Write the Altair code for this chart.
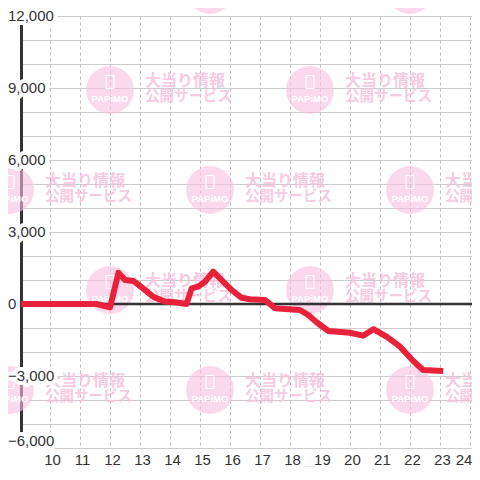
import altair as alt
import pandas as pd

# ---- chart values ----
hours = [9.03, 11.55, 12.0, 12.28, 12.5, 12.78, 13.17, 13.44, 13.83, 14.17,
         14.55, 14.72, 14.93, 15.17, 15.44, 15.72, 16.06, 16.39, 16.67, 17.17,
         17.5, 18.33, 18.61, 18.89, 19.28, 20.0, 20.44, 20.78, 21.22, 21.67,
         22.11, 22.44, 23.11]
values = [0, 0, -140, 1300, 1000, 960, 580, 300, 100, 70,
          0, 650, 720, 930, 1350, 1000, 580, 260, 200, 170,
          -180, -250, -460, -760, -1125, -1200, -1320, -1050, -1360, -1780,
          -2375, -2750, -2790]
y_ticks = [12000, 9000, 6000, 3000, 0, -3000, -6000]
y_grid = list(range(-6000, 12001, 1000))
x_ticks = list(range(10, 25))

X_DOMAIN = [9.03, 24.07]
Y_DOMAIN = [-6000, 12000]
W, H = 451, 432

line_df = pd.DataFrame({"h": hours, "v": values})
ylab_df = pd.DataFrame({"v": y_ticks})

# ---- decorative watermark tiles (repeating page pattern, mapped into data space) ----
px_per_h = W / (X_DOMAIN[1] - X_DOMAIN[0])
units_per_px = (Y_DOMAIN[1] - Y_DOMAIN[0]) / H


def to_h(px):
    return X_DOMAIN[0] + (px - 21) / px_per_h


def to_v(py):
    return Y_DOMAIN[1] - (py - 16) * units_per_px


wm = []
for k in range(-1, 5):
    cy = 90 + 100 * k
    for i in range(-1, 3):
        cx = 110 + 100 * (k % 2) + 200 * i
        if -60 <= cx <= 520:
            wm.append({"cx": to_h(cx), "cy": to_v(cy), "tx": to_h(cx + 35),
                       "t1y": to_v(cy - 9), "t2y": to_v(cy + 7),
                       "py": to_v(cy + 9), "iy": to_v(cy - 8)})
wm_df = pd.DataFrame(wm)

FONT = "Liberation Sans"
JP = "Noto Sans CJK JP"
WM_TEXT = "#f6c2dd"

xs = alt.Scale(domain=X_DOMAIN, nice=False, zero=False)
ys = alt.Scale(domain=Y_DOMAIN, nice=False, zero=False)

X_AXIS = alt.Axis(values=x_ticks, grid=True, gridColor="#bdbdbd", gridDash=[3, 3],
                  gridWidth=1, domain=False, ticks=False, labelFontSize=15,
                  labelFont=FONT, labelColor="#333", labelPadding=4,
                  labelOffset=2, labelFlush=False, labelOverlap=False,
                  labelAlign={"condition": {"test": "datum.value == 24", "value": "right"},
                              "value": "center"}, title=None)
Y_AXIS = alt.Axis(values=y_grid, grid=True, gridColor="#cccccc", gridWidth=1,
                  domain=True, domainColor="#333", domainWidth=3,
                  ticks=False, labels=False, title=None)


def X(field):
    return alt.X(field, type="quantitative", scale=xs, axis=X_AXIS)


def Y(field):
    return alt.Y(field, type="quantitative", scale=ys, axis=Y_AXIS)


frame = alt.Chart(line_df).mark_line(opacity=0).encode(x=X("h"), y=Y("v"))

base_wm = alt.Chart(wm_df)
circles = base_wm.mark_circle(size=2290, color="#f9bfdf", opacity=0.6).encode(
    x=X("cx"), y=Y("cy"))
icons = base_wm.mark_point(shape="M-0.6,-1H0.6V1H-0.6Z", size=169, filled=False,
                           stroke="white", strokeWidth=1.2, opacity=0.9).encode(
    x=X("cx"), y=Y("iy"))
papimo = base_wm.mark_text(text="PAPiMO", font=FONT, fontSize=9.5, fontWeight="bold",
                           color="white", align="center", baseline="middle").encode(
    x=X("cx"), y=Y("py"))
t1 = base_wm.mark_text(text="大当り情報", font=JP, fontSize=16, fontWeight="bold",
                       color=WM_TEXT, opacity=0.85, align="left",
                       baseline="middle").encode(x=X("tx"), y=Y("t1y"))
t2 = base_wm.mark_text(text="公開サービス", font=JP, fontSize=14.5, fontWeight="bold",
                       color=WM_TEXT, opacity=0.85, align="left",
                       baseline="middle").encode(x=X("tx"), y=Y("t2y"))

zero = alt.Chart(pd.DataFrame({"v": [0]})).mark_rule(color="#333", strokeWidth=2.5).encode(
    y=Y("v"))

line = alt.Chart(line_df).mark_line(color="#e9213a", strokeWidth=6, strokeJoin="round",
                                    strokeCap="butt").encode(x=X("h"), y=Y("v"))


def ylab_layer(halo, bottom):
    props = dict(align="left", baseline="middle", font=FONT, fontSize=15)
    if halo:
        props.update(fill="white", stroke="white", strokeWidth=8, strokeJoin="round")
    else:
        props.update(color="#333")
    if bottom:
        props.update(dy=-7)
    c = alt.Chart(ylab_df).mark_text(**props).encode(
        x=alt.value(-13), y=Y("v"), text=alt.Text("v:Q", format=","))
    test = "datum.v == -6000" if bottom else "datum.v > -6000"
    return c.transform_filter(test)


labels = [ylab_layer(True, False), ylab_layer(True, True),
          ylab_layer(False, False), ylab_layer(False, True)]

chart = alt.layer(frame, circles, icons, papimo, t1, t2, zero, line, *labels).properties(
    width=W, height=H,
    autosize=alt.AutoSizeParams(type="none"),
    padding={"left": 13, "top": 8, "right": 0, "bottom": 19},
    background="white",
).configure_view(stroke=None)

chart.save("out.html", embed_options={"renderer": "svg", "actions": False})
